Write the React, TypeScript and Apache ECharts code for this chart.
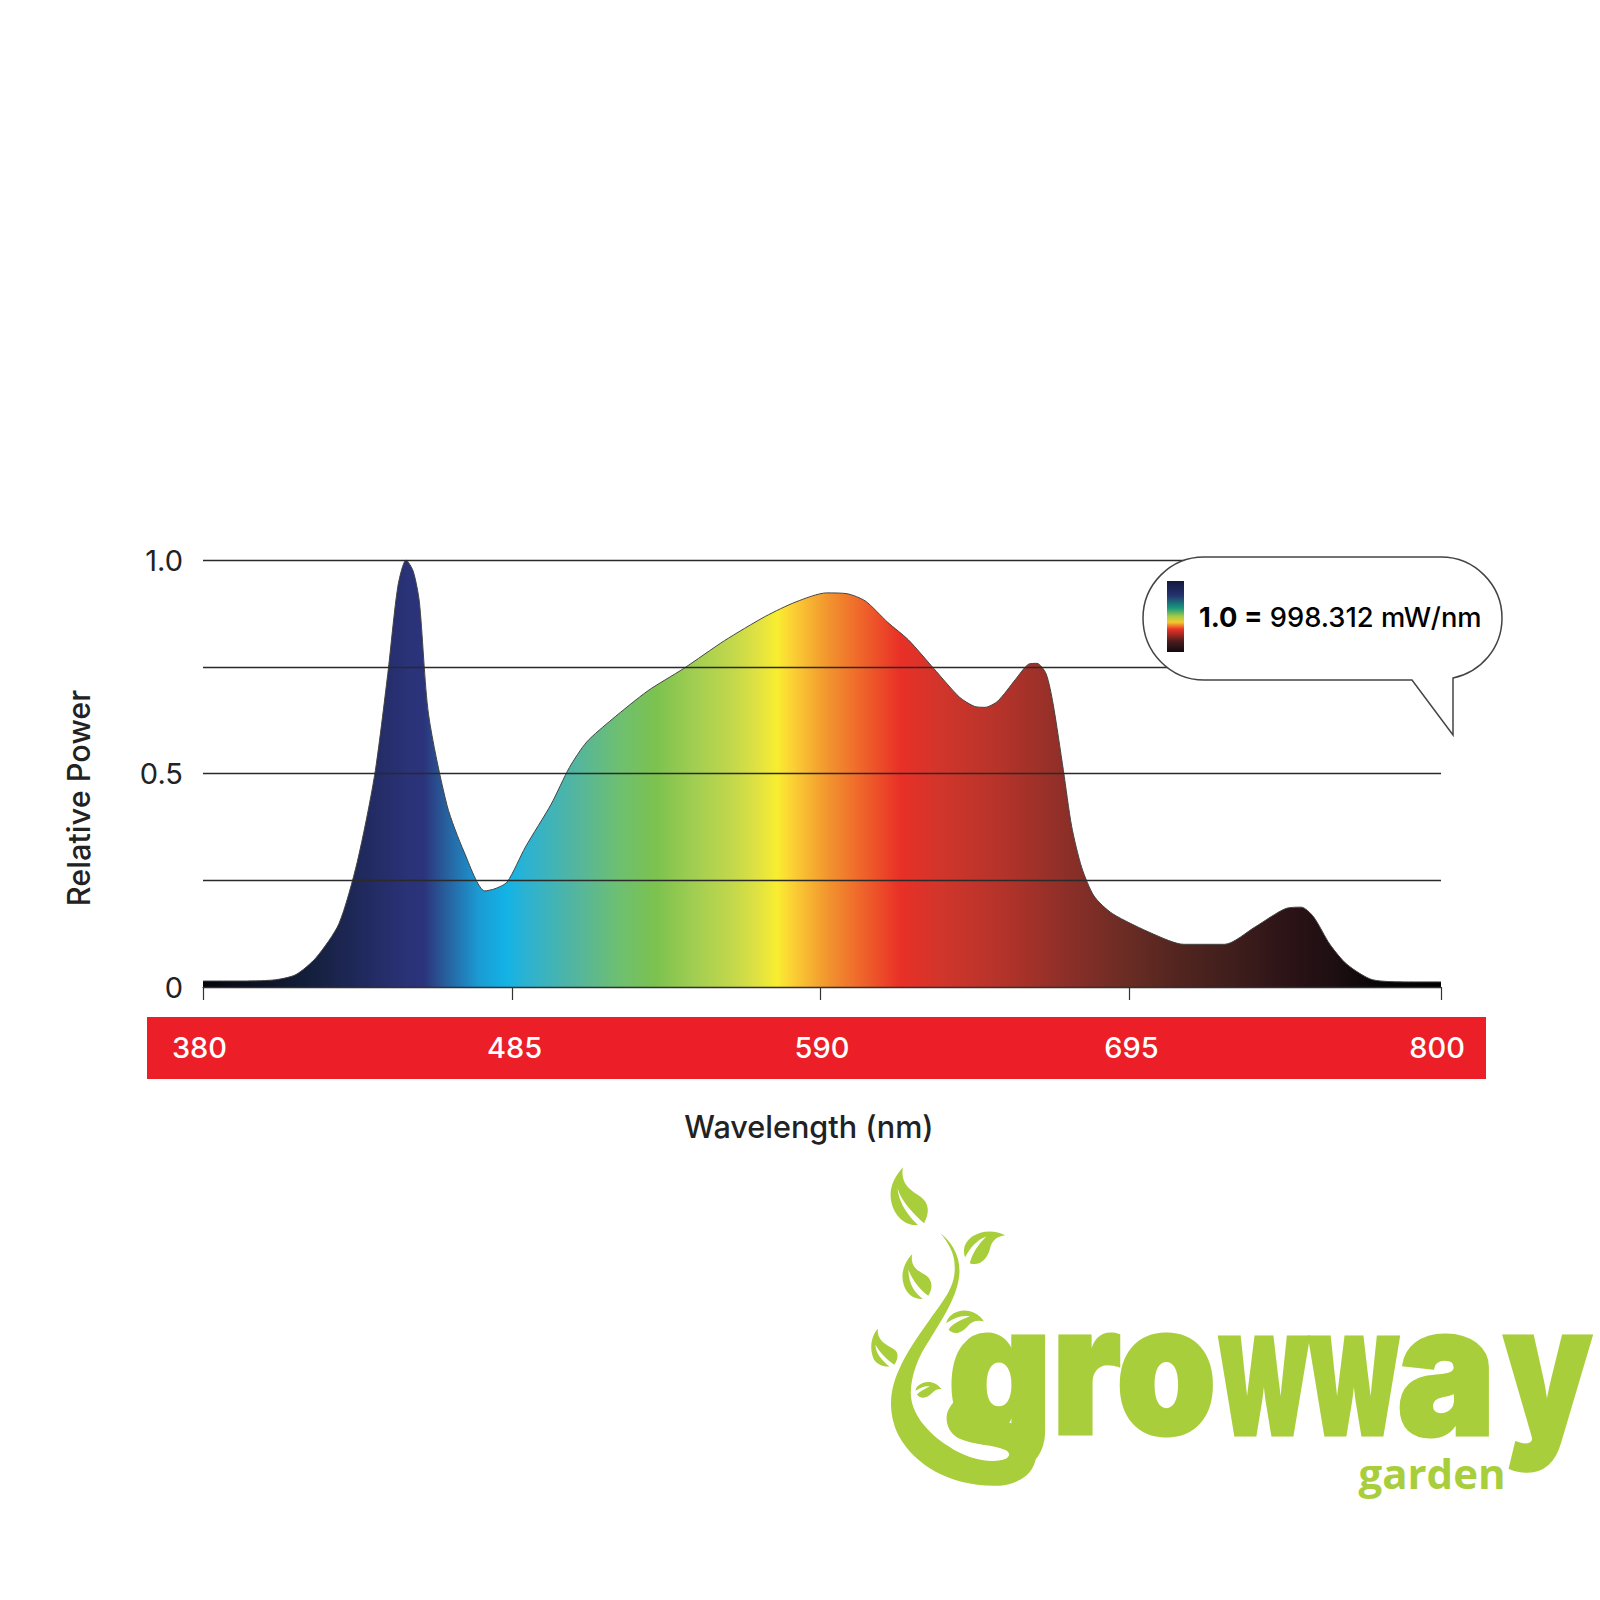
import React, { useEffect, useRef } from "react";
import * as echarts from "echarts";

const wavelengths = [380,394.2,404.6,411.5,418.4,426.1,432.3,438.2,442.7,446.1,448.9,451.3,453.4,456.5,462.8,468.6,475.6,479,483.2,489.4,498.1,504.3,510.2,518.8,531,543.1,556.9,570.8,581.2,591.6,598.5,604.7,612.3,619.3,627.9,636.6,641.8,645.3,649.7,655.6,660.1,662.9,666,668.4,671.9,674.7,678.1,682.3,688.5,702.4,712.7,726.6,737,747.4,752.6,756.7,762.3,768.1,776.8,788.9,800];
const relativePower = [.014,.014,.017,.029,.069,.148,.292,.495,.734,.938,1,.974,.902,.639,.425,.316,.225,.23,.246,.328,.428,.514,.574,.627,.694,.746,.811,.868,.902,.923,.921,.904,.854,.813,.746,.679,.657,.655,.67,.72,.756,.758,.734,.663,.507,.376,.28,.213,.172,.124,.1,.1,.141,.184,.187,.165,.1,.053,.017,.012,.012];
const tickValues = [380,485,589.3,694.3,800];
const labelValues = [380,485,590,695,800];
const labelStyle: Record<string,string> = { "380":"l", "485":"s", "800":"r" };
const yLabels: Record<string,string> = { "0":"0", "0.5":"0.5", "1":"1.0" };
const spectrumStops: [number,string][] = [[0,"#05060c"],[0.09,"#15203f"],[0.164,"#2a3278"],[0.178,"#2b337a"],[0.197,"#27619f"],[0.223,"#1b9bd4"],[0.245,"#12b3e6"],[0.26,"#2bb2d3"],[0.3,"#52b5a0"],[0.335,"#6dbf72"],[0.366,"#7cc24f"],[0.395,"#9fcd52"],[0.428,"#c3d84b"],[0.45,"#e3e340"],[0.4635,"#f8ee30"],[0.474,"#fcd535"],[0.504,"#f2962e"],[0.533,"#ef632b"],[0.563,"#e93027"],[0.598,"#d0352b"],[0.644,"#b5332a"],[0.698,"#8c2f28"],[0.746,"#6a2c24"],[0.792,"#50241f"],[0.832,"#3f1e1c"],[0.88,"#2a1216"],[0.913,"#1e0f12"],[0.954,"#050505"],[1,"#000000"]];
const legendStops: [number,string][] = [[0,"#141a3c"],[0.2,"#25306e"],[0.38,"#16987e"],[0.5,"#a8cb45"],[0.58,"#f3c92f"],[0.68,"#ea3127"],[0.85,"#4a1d1c"],[1,"#120a10"]];

const callout = "M1204 557 H1441 C1475 557 1502 585 1502 618 C1502 648 1481 672 1453 678 V735 L1412 680 H1204 C1170 680 1143 652 1143 618 C1143 585 1170 557 1204 557 Z";
const vine = "M213 310 C235 335 255 375 253 430 C250 500 215 570 190 630 C165 680 150 740 150 790 C150 850 185 910 230 950 C265 985 310 1000 340 992 C360 988 365 970 350 960 C325 945 280 945 250 925 C225 905 220 860 232 835 C240 815 250 808 243 795 L295 855 C300 870 340 870 375 885 C410 905 418 950 415 985 C410 1030 385 1060 340 1068 C240 1075 160 1010 125 920 C100 850 105 780 125 720 C140 670 165 620 190 570 C220 510 245 470 243 410 C243 370 230 340 213 310 Z";
const gapMask = "M150 790 L232 835 C220 860 225 905 250 925 C280 945 325 945 350 960 C365 970 360 988 340 992 L340 1000 L150 1000 Z";
const leaves = [
  "M133 112 C110 150 105 180 108 210 C112 250 135 290 165 285 C150 265 125 225 122 175 C130 215 155 250 178 280 C190 250 190 220 170 200 C150 180 128 165 133 112 Z",
  "M350 316 C330 300 300 300 280 320 C262 340 260 360 265 383 C275 355 290 330 310 320 C295 340 280 370 275 400 C295 410 312 390 318 355 C322 330 335 318 350 316 Z",
  "M153 372 C135 400 128 430 135 465 C140 490 155 510 175 507 C160 490 145 465 145 420 C155 455 170 480 187 498 C197 475 197 450 180 435 C165 422 148 410 153 372 Z",
  "M305 575 C295 550 270 535 250 545 C235 552 228 565 225 580 C240 568 255 555 275 560 C255 570 235 585 230 600 C245 620 260 605 270 590 C278 575 290 570 305 575 Z",
  "M80 597 C65 620 62 660 72 690 C80 705 92 712 105 710 C90 695 75 670 75 645 C85 670 100 690 115 705 C125 685 125 665 110 655 C95 642 78 630 80 597 Z",
  "M215 778 C205 760 190 752 175 760 C165 766 160 775 160 783 C170 775 180 768 190 770 C178 778 168 785 163 795 C172 810 185 805 195 790 C200 782 207 777 215 778 Z",
];
const GREEN = "#a9ce3b";
echarts.graphic.registerShape("callout", echarts.graphic.extendPath(callout, {}) as any);
echarts.graphic.registerShape("vine", echarts.graphic.extendPath(vine, {}) as any);
echarts.graphic.registerShape("gapMask", echarts.graphic.extendPath(gapMask, {}) as any);
leaves.forEach((d, i) => echarts.graphic.registerShape("leaf" + i, echarts.graphic.extendPath(d, {}) as any));

const logoText = (text: string, x: number, scaleX: number) => ({
  type: "text", x, y: 1369, scaleX, scaleY: 1, z: 3,
  style: { text, fontFamily: "Inter", fontWeight: 900, fontSize: 180, fill: GREEN, stroke: GREEN, lineWidth: 3, lineJoin: "round", align: "left", verticalAlign: "middle" },
});

export default function App() {
  const ref = useRef<HTMLDivElement>(null);
  useEffect(() => {
    const chart = echarts.init(ref.current!, undefined, { renderer: "svg" });
    const tickLabel = { fontFamily: "Inter", fontWeight: 500, fontSize: 29, color: "#fff" };
    chart.setOption({
      animation: false,
      backgroundColor: "#fff",
      textStyle: { fontFamily: "Inter" },
      grid: { left: 203, top: 560, width: 1238, height: 427 },
      xAxis: {
        type: "value", min: 380, max: 800, z: 6,
        axisLine: { lineStyle: { color: "#333", width: 1.2 } },
        axisTick: { show: true, length: 13, inside: false, customValues: tickValues, lineStyle: { color: "#333", width: 1.2 } },
        axisLabel: {
          show: true, customValues: labelValues, margin: 46, ...tickLabel,
          formatter: (v: number) => `{${labelStyle[String(v)] ?? "c"}|${v}}`,
          rich: {
            c: tickLabel,
            l: { ...tickLabel, padding: [0, 7, 0, 0] },
            r: { ...tickLabel, padding: [0, 8, 0, 0] },
            s: { ...tickLabel, padding: [0, 0, 0, 4] },
          },
        },
        splitLine: { show: false },
      },
      yAxis: {
        type: "value", min: 0, max: 1, interval: 0.25, z: 4,
        axisLine: { show: false }, axisTick: { show: false },
        axisLabel: { margin: 20, fontSize: 29, color: "#222", fontFamily: "Inter", formatter: (v: number) => yLabels[String(v)] ?? "" },
        splitLine: { show: true, lineStyle: { color: "#2a2a2a", width: 1.3 } },
      },
      series: [{
        type: "line", symbol: "none", smooth: 0.25, z: 2,
        data: wavelengths.map((w, i) => [w, relativePower[i]]),
        lineStyle: { color: "#444", width: 1 },
        areaStyle: { opacity: 1, color: new echarts.graphic.LinearGradient(0, 0, 1, 0, spectrumStops.map(([offset, color]) => ({ offset, color }))) },
      }],
      graphic: [
        { type: "rect", z: 0, shape: { x: 147, y: 1017, width: 1339, height: 62 }, style: { fill: "#ec1e27" } },
        { type: "callout", z: 20, style: { fill: "#fff", stroke: "#444", lineWidth: 1.5 } },
        { type: "rect", z: 21, shape: { x: 1167, y: 581, width: 17, height: 71 }, style: { fill: new echarts.graphic.LinearGradient(0, 0, 0, 1, legendStops.map(([offset, color]) => ({ offset, color }))) } },
        { type: "text", z: 21, x: 1199, y: 617, style: { text: "{b|1.0 =} {n|998.312 mW/nm}", verticalAlign: "middle", rich: { b: { fontFamily: "Inter", fontWeight: 700, fontSize: 27.3, color: "#222" }, n: { fontFamily: "Inter", fontWeight: 500, fontSize: 27.3, color: "#222", padding: [0, 0, 0, 4] } } } },
        { type: "text", z: 5, x: 809, y: 1126, style: { text: "Wavelength (nm)", fontFamily: "Inter", fontWeight: 500, fontSize: 30.6, fill: "#222", align: "center", verticalAlign: "middle" } },
        { type: "text", z: 5, x: 78, y: 798, rotation: Math.PI / 2, style: { text: "Relative Power", fontFamily: "Inter", fontWeight: 500, fontSize: 30.7, fill: "#222", align: "center", verticalAlign: "middle" } },
        logoText("gro", 948, 0.89),
        logoText("ww", 1219, 0.57),
        logoText("a", 1397, 0.92),
        logoText("y", 1503, 0.78),
        { type: "group", x: 840, y: 1130, scaleX: 1 / 2.12, scaleY: 1 / 3, children: [
          { type: "gapMask", z: 4, style: { fill: "#fff" } },
          { type: "vine", z: 5, style: { fill: GREEN } },
          ...leaves.map((_, i) => ({ type: "leaf" + i, z: 5, style: { fill: GREEN } })),
        ] },
        { type: "text", z: 6, x: 1432, y: 1472, style: { text: "garden", fontFamily: "Open Sans", fontWeight: 700, fontSize: 42, fill: GREEN, align: "center", verticalAlign: "middle" } },
      ],
    });
    return () => chart.dispose();
  }, []);
  return <div ref={ref} style={{ position: "absolute", left: 0, top: 0, width: 1600, height: 1600 }} />;
}
